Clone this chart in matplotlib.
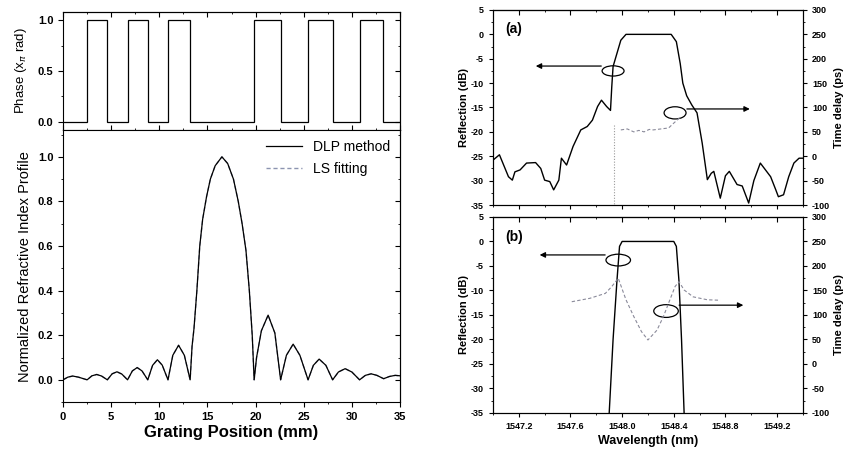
import matplotlib.pyplot as plt
from matplotlib.patches import Ellipse
from matplotlib.ticker import MultipleLocator

plt.rcParams['font.family'] = ['Liberation Sans', 'DejaVu Sans']

# ---- left: phase + index profile ----
phase_edges = [0, 2.5, 4.6, 6.7, 8.8, 10.9, 13.2, 19.85, 22.6, 25.45, 28.0, 30.8, 33.25, 35]
phase_vals = [0, 1, 0, 1, 0, 1, 0, 1, 0, 1, 0, 1, 0]

pos = [0, 0.5, 1.0, 1.6, 2.5, 3.0, 3.5, 4.0, 4.6, 5.1, 5.6, 6.1, 6.7, 7.2, 7.7, 8.2,
       8.8, 9.3, 9.8, 10.3, 10.9, 11.4, 12.0, 12.6, 13.2, 13.4, 13.6, 13.9, 14.2, 14.5,
       14.9, 15.3, 15.8, 16.5, 17.1, 17.7, 18.2, 18.6, 19.0, 19.35, 19.65, 19.85, 20.1,
       20.6, 21.3, 22.0, 22.6, 23.2, 23.9, 24.6, 25.45, 26.0, 26.6, 27.3, 28.0, 28.6,
       29.3, 30.0, 30.8, 31.4, 32.0, 32.6, 33.3, 33.9, 34.5, 35.0]
dlp = [0.0, 0.012, 0.017, 0.012, 0.0, 0.018, 0.024, 0.017, 0.0, 0.027, 0.036, 0.026,
       0.0, 0.04, 0.055, 0.04, 0.0, 0.065, 0.09, 0.066, 0.0, 0.11, 0.155, 0.11, 0.0,
       0.15, 0.23, 0.40, 0.60, 0.72, 0.82, 0.90, 0.96, 1.0, 0.97, 0.90, 0.80, 0.70, 0.58,
       0.40, 0.20, 0.0, 0.10, 0.22, 0.29, 0.21, 0.0, 0.11, 0.16, 0.11, 0.0, 0.065, 0.093,
       0.065, 0.0, 0.035, 0.05, 0.035, 0.0, 0.02, 0.027, 0.02, 0.005, 0.015, 0.02, 0.018]
ls_fit = dlp

# ---- right (a) ----
wl_a = [1547.00, 1547.05, 1547.12, 1547.15, 1547.17, 1547.21, 1547.26, 1547.33, 1547.37,
        1547.40, 1547.44, 1547.47, 1547.51, 1547.53, 1547.57, 1547.62, 1547.68, 1547.73,
        1547.77, 1547.81, 1547.84, 1547.88, 1547.91, 1547.92, 1547.93, 1547.96, 1547.99,
        1548.03, 1548.38, 1548.42, 1548.45, 1548.47, 1548.50, 1548.54, 1548.58, 1548.62,
        1548.66, 1548.69, 1548.71, 1548.76, 1548.80, 1548.83, 1548.89, 1548.93, 1548.98,
        1549.02, 1549.07, 1549.15, 1549.19, 1549.21, 1549.25, 1549.29, 1549.33, 1549.37,
        1549.41]
refl_a = [-25.8, -24.7, -29.2, -29.9, -28.2, -27.8, -26.4, -26.3, -27.5, -29.9, -30.2,
          -31.9, -29.9, -25.4, -26.8, -23.0, -19.6, -18.9, -17.6, -14.8, -13.5, -14.8,
          -15.6, -10.7, -6.6, -3.9, -1.2, 0.0, 0.0, -1.5, -6.0, -10.0, -12.6, -14.5, -16.1,
          -22.3, -29.8, -28.5, -28.1, -33.6, -29.0, -28.1, -30.8, -31.1, -34.6, -30.0,
          -26.4, -29.2, -31.9, -33.3, -32.9, -29.2, -26.4, -25.4, -25.4]
wl_td_a = [1547.99, 1548.04, 1548.09, 1548.13, 1548.17, 1548.21, 1548.24, 1548.30, 1548.36,
           1548.40, 1548.45]
td_a = [54, 56, 50, 53, 50, 55, 54, 56, 58, 68, 80]
wl_td_a_edge = [1547.94, 1547.94]
td_a_edge = [64, -100]

# ---- right (b) ----
wl_b = [1547.90, 1547.93, 1547.96, 1547.98, 1548.00, 1548.40, 1548.42, 1548.44, 1548.46,
        1548.48]
refl_b = [-35, -20, -8, -1, 0, 0, -1, -8, -20, -35]
wl_td_b = [1547.61, 1547.75, 1547.87, 1547.92, 1547.97, 1548.03, 1548.09, 1548.15, 1548.20,
           1548.27, 1548.32, 1548.37, 1548.41, 1548.44, 1548.48, 1548.55, 1548.66, 1548.76]
td_b = [127, 134, 144, 158, 175, 131, 97, 66, 49, 69, 97, 131, 158, 168, 151, 137, 131, 130]

wl_ticks = [1547.2, 1547.6, 1548.0, 1548.4, 1548.8, 1549.2]
wl_labels = ['1547.2', '1547.6', '1548.0', '1548.4', '1548.8', '1549.2']

fig = plt.figure(figsize=(8.52, 4.58), dpi=100)


def mirror_ticks(ax, xmaj, xmin, ymaj, ymin, top=True, right=True):
    # inward ticks on the unlabeled sides
    if top:
        sx = ax.secondary_xaxis('top')
        sx.set_xticks(xmaj)
        sx.xaxis.set_minor_locator(MultipleLocator(xmin))
        sx.tick_params(which='both', direction='in', labeltop=False)
        sx.tick_params(which='minor', length=1.5)
    if right:
        sy = ax.secondary_yaxis('right')
        sy.set_yticks(ymaj)
        sy.yaxis.set_minor_locator(MultipleLocator(ymin))
        sy.tick_params(which='both', direction='in', labelright=False)
        sy.tick_params(which='minor', length=1.5)


ax_ph = fig.add_axes([0.074, 0.716, 0.3955, 0.258])
ax_pr = fig.add_axes([0.074, 0.122, 0.3955, 0.594])

ax_ph.stairs(phase_vals, phase_edges, baseline=None, color='k', lw=0.9)
ax_ph.set_xlim(0, 35)
ax_ph.set_ylim(-0.08, 1.08)
ax_ph.set_yticks([0.0, 0.5, 1.0])
ax_ph.set_yticklabels(['0.0', '0.5', '1.0'], fontweight='bold', fontsize=8)
ax_ph.yaxis.set_minor_locator(MultipleLocator(0.25))
ax_ph.set_xticks(range(0, 36, 5))
ax_ph.xaxis.set_minor_locator(MultipleLocator(2.5))
ax_ph.tick_params(axis='x', which='both', labelbottom=False, direction='in')
ax_ph.tick_params(which='minor', length=1.5)
ax_ph.set_ylabel(r'Phase (x$_\pi$ rad)', fontsize=9.5, labelpad=6)
mirror_ticks(ax_ph, list(range(0, 36, 5)), 2.5, [0.0, 0.5, 1.0], 0.25)

ax_pr.plot(pos, ls_fit, color='#8c94b0', lw=1.0, ls=(0, (3, 2)), label='LS fitting', zorder=2)
ax_pr.plot(pos, dlp, color='k', lw=0.9, label='DLP method', zorder=3)
ax_pr.set_xlim(0, 35)
ax_pr.set_ylim(-0.1, 1.12)
ax_pr.set_yticks([0.0, 0.2, 0.4, 0.6, 0.8, 1.0])
ax_pr.set_yticklabels(['0.0', '0.2', '0.4', '0.6', '0.8', '1.0'], fontweight='bold', fontsize=8)
ax_pr.yaxis.set_minor_locator(MultipleLocator(0.1))
ax_pr.set_xticks(range(0, 36, 5))
ax_pr.set_xticklabels([str(v) for v in range(0, 36, 5)], fontweight='bold', fontsize=8)
ax_pr.xaxis.set_minor_locator(MultipleLocator(2.5))
ax_pr.tick_params(which='minor', length=1.5)
ax_pr.set_xlabel('Grating Position (mm)', fontsize=12, fontweight='bold', labelpad=2)
ax_pr.set_ylabel('Normalized Refractive Index Profile', fontsize=10.5, labelpad=4)
mirror_ticks(ax_pr, list(range(0, 36, 5)), 2.5, [0.0, 0.2, 0.4, 0.6, 0.8, 1.0], 0.1,
             top=False)
h, l = ax_pr.get_legend_handles_labels()
ax_pr.legend(h[::-1], l[::-1], loc='upper right', frameon=False, fontsize=10,
             handlelength=2.6, borderaxespad=0.3, labelspacing=0.6)


def right_panel(rect, tag):
    ax = fig.add_axes(rect)
    ax.set_xlim(1547.0, 1549.4)
    ax.set_ylim(-35, 5)
    ax.set_yticks(range(-35, 6, 5))
    ax.set_yticklabels([str(v) for v in range(-35, 6, 5)], fontweight='bold', fontsize=6.5)
    ax.yaxis.set_minor_locator(MultipleLocator(2.5))
    ax.set_xticks(wl_ticks)
    ax.xaxis.set_minor_locator(MultipleLocator(0.2))
    ax.tick_params(which='major', length=3)
    ax.tick_params(which='minor', length=1.5)
    ax.set_ylabel('Reflection (dB)', fontsize=8, fontweight='bold', labelpad=1)
    ax.text(0.04, 0.9, tag, transform=ax.transAxes, fontsize=10, fontweight='bold',
            va='center')
    mirror_ticks(ax, wl_ticks, 0.2, [], 1, right=False)
    tw = ax.twinx()
    tw.set_ylim(-100, 300)
    tw.set_yticks(range(-100, 301, 50))
    tw.set_yticklabels([str(v) for v in range(-100, 301, 50)], fontweight='bold', fontsize=6.5)
    tw.yaxis.set_minor_locator(MultipleLocator(25))
    tw.tick_params(which='major', length=3)
    tw.tick_params(which='minor', length=1.5)
    tw.set_ylabel('Time delay (ps)', fontsize=8, fontweight='bold', labelpad=3)
    return ax, tw


ax_a, tw_a = right_panel([0.5786, 0.5524, 0.3638, 0.4258], '(a)')
ax_b, tw_b = right_panel([0.5786, 0.0983, 0.3638, 0.428], '(b)')

ax_a.plot(wl_a, refl_a, color='k', lw=1.0)
tw_a.plot(wl_td_a, td_a, color='#8a8a9a', lw=0.8, ls=(0, (3, 2)))
tw_a.plot(wl_td_a_edge, td_a_edge, color='#9a9a9a', lw=0.8, ls=(0, (1, 1.5)))
ax_a.tick_params(axis='x', labelbottom=False)

ax_b.plot(wl_b, refl_b, color='k', lw=1.0)
tw_b.plot(wl_td_b, td_b, color='#8a8a9a', lw=0.8, ls=(0, (3, 2)))
ax_b.set_xticklabels(wl_labels, fontweight='bold', fontsize=6.5)
ax_b.set_xlabel('Wavelength (nm)', fontsize=9, fontweight='bold', labelpad=3)

# ellipses and arrows
arrow = dict(arrowstyle='-|>', color='k', lw=0.9, mutation_scale=8)
ax_a.add_patch(Ellipse((1547.93, -7.5), 0.17, 2.1, fill=False, lw=0.9, zorder=5))
ax_a.annotate('', xy=(1547.31, -6.5), xytext=(1547.86, -6.5), arrowprops=arrow)
ax_a.add_patch(Ellipse((1548.41, -16.1), 0.17, 2.5, fill=False, lw=0.9, zorder=5))
ax_a.annotate('', xy=(1549.01, -15.3), xytext=(1548.48, -15.3), arrowprops=arrow)

ax_b.add_patch(Ellipse((1547.97, -3.8), 0.19, 2.4, fill=False, lw=0.9, zorder=5))
ax_b.annotate('', xy=(1547.34, -2.75), xytext=(1547.89, -2.75), arrowprops=arrow)
ax_b.add_patch(Ellipse((1548.34, -14.2), 0.19, 2.6, fill=False, lw=0.9, zorder=5))
ax_b.annotate('', xy=(1548.96, -13.0), xytext=(1548.42, -13.0), arrowprops=arrow)

fig.savefig('out.png', dpi=100)
